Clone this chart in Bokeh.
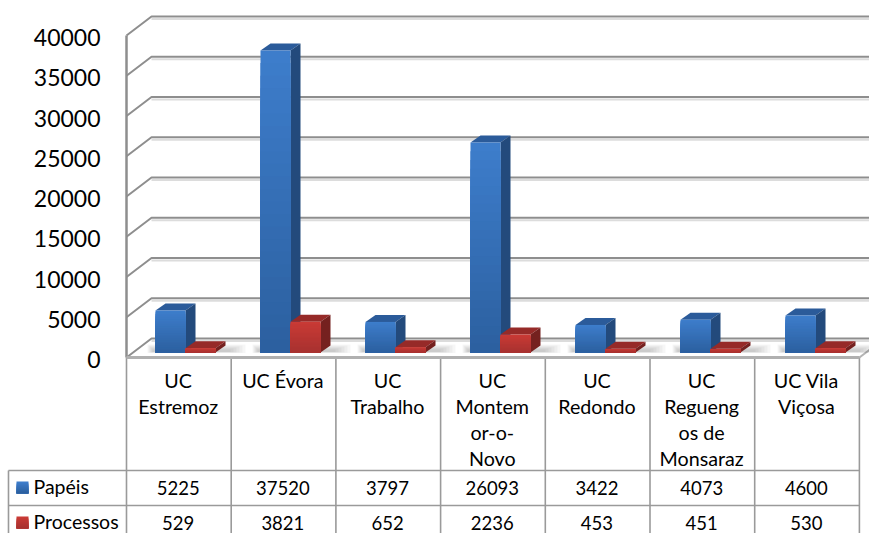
from bokeh.core.properties import value
from bokeh.embed import file_html
from bokeh.models import Range1d
from bokeh.plotting import figure
from bokeh.resources import INLINE

categories = [
    ["UC", "Estremoz"],
    ["UC Évora"],
    ["UC", "Trabalho"],
    ["UC", "Montem", "or-o-", "Novo"],
    ["UC", "Redondo"],
    ["UC", "Regueng", "os de", "Monsaraz"],
    ["UC Vila", "Viçosa"],
]
papeis = [5225, 37520, 3797, 26093, 3422, 4073, 4600]
processos = [529, 3821, 652, 2236, 453, 451, 530]
series_names = ["Papéis", "Processos"]
ticks = [0, 5000, 10000, 15000, 20000, 25000, 30000, 35000, 40000]

WIDTH, HEIGHT = 869, 533
FONT = value("Lato")
GRID = "#8e8e8e"
TABLE_LINE = "#9a9a9a"
PX_PER_COL = 104.7
PX_PER_VAL = 322 / 40000
ORIGIN_X, ORIGIN_Y = 126, 357
WALL_DX = 25 / PX_PER_COL
WALL_DY = 19 / PX_PER_VAL
BAR_STEP = 105 / PX_PER_COL
BAR_W = 30 / PX_PER_COL
BAR_DX = 10 / PX_PER_COL
BAR_DY = 7 / PX_PER_VAL
BASE_X = 29 / PX_PER_COL
BASE_Y = 5 / PX_PER_VAL
TEXT_SHIFT = -0.7 / PX_PER_COL

BLUE = {"top": "#2b5b9a", "side": "#234a7c", "hi": "#3d7dcb", "lo": "#2c60a0"}
RED = {"top": "#962a28", "side": "#75211f", "hi": "#c93a35", "lo": "#a83230"}


def blend(colors, f):
    hi = [int(colors["hi"][i:i + 2], 16) for i in (1, 3, 5)]
    lo = [int(colors["lo"][i:i + 2], 16) for i in (1, 3, 5)]
    return "#%02x%02x%02x" % tuple(round(h + (l - h) * f) for h, l in zip(hi, lo))


def tx(px):
    """Column-unit x for a table position given in page pixels."""
    return (px - ORIGIN_X) / PX_PER_COL


def ty(px):
    """Value-unit y for a table position given in page pixels."""
    return (ORIGIN_Y - px) / PX_PER_VAL


p = figure(
    width=WIDTH, height=HEIGHT, output_backend="svg", toolbar_location=None,
    x_range=Range1d(tx(0), tx(WIDTH)),
    y_range=Range1d(ty(HEIGHT), ty(0)),
    min_border_left=0, min_border_right=0, min_border_top=0, min_border_bottom=0,
    x_axis_location=None, y_axis_location=None, outline_line_color=None,
)
p.grid.visible = False

n = len(categories)

# Value axis labels
p.text(
    [tx(100)] * len(ticks), ticks, text=[str(t) for t in ticks],
    text_font=FONT, text_font_size=value("23px"), text_color="#000000",
    text_align="right", text_baseline="middle", y_offset=2,
)

# Pale shading under the wall lines, then the wall lines themselves
p.multi_line(
    [[WALL_DX, n + 1] for _ in ticks],
    [[t + WALL_DY - 2.5 / PX_PER_VAL] * 2 for t in ticks],
    line_color="#dcdcdc", line_width=2,
)
p.multi_line(
    [[0, WALL_DX, n + 1] for _ in ticks],
    [[t, t + WALL_DY, t + WALL_DY] for t in ticks],
    line_color=GRID, line_width=2,
)
p.line([0, 0], [0, ticks[-1]], line_color=GRID, line_width=2.5)
p.line([n, n + WALL_DX], [0, WALL_DY], line_color="#b4b4b4", line_width=2)


def draw_shadow(x0, x1):
    # soft shadow on the floor around the foot of a bar pair
    for grow in range(6):
        p.quad(
            left=[x0 - (8 - grow) / PX_PER_COL], right=[x1 + (30 - 3 * grow) / PX_PER_COL],
            bottom=[BASE_Y + (grow * 0.2 - 0.5) / PX_PER_VAL],
            top=[BASE_Y + (8 - grow) / PX_PER_VAL],
            fill_color="#000000", fill_alpha=0.035, line_color=None,
        )


def draw_bar(x0, val, colors, bands=24):
    x1 = x0 + BAR_W
    y0 = BASE_Y
    y1 = BASE_Y + val
    # top face
    p.patch(
        [x0, x0 + BAR_DX, x1 + BAR_DX, x1],
        [y1, y1 + BAR_DY, y1 + BAR_DY, y1],
        fill_color=colors["top"], line_color=None,
    )
    # side face
    p.patch(
        [x1, x1 + BAR_DX, x1 + BAR_DX, x1],
        [y0, y0 + BAR_DY, y1 + BAR_DY, y1],
        fill_color=colors["side"], line_color=None,
    )
    # front face: each step runs down to the base, so no seams show between steps
    for b in range(bands):
        p.quad(
            left=[x0], right=[x1],
            top=[y1 - val * b / bands], bottom=[y0],
            fill_color=blend(colors, b / (bands - 1)), line_color=None,
        )


for i in range(n):
    x = i * BAR_STEP + BASE_X
    draw_shadow(x, x + 2 * BAR_W)
for i in range(n):
    x = i * BAR_STEP + BASE_X
    draw_bar(x, papeis[i], BLUE)
    draw_bar(x + BAR_W, processos[i], RED)

# Data table under the floor of the chart
col_edges = list(range(n + 1))
col_mids = [i + 0.5 + TEXT_SHIFT for i in range(n)]
ROW_Y = [470, 505]
p.multi_line(
    [[x, x] for x in col_edges],
    [[ty(ORIGIN_Y), ty(HEIGHT)] for _ in col_edges],
    line_color=TABLE_LINE, line_width=1.6,
)
p.multi_line(
    [[tx(8), n] for _ in ROW_Y],
    [[ty(y), ty(y)] for y in ROW_Y],
    line_color=TABLE_LINE, line_width=1.6,
)
p.line([tx(8), tx(8)], [ty(470), ty(HEIGHT)], line_color=TABLE_LINE, line_width=1.6)
p.line([0, n], [0, 0], line_color="#b0b0b0", line_width=3)

LINE_Y = [380, 406, 432, 458]
for i, lines in enumerate(categories):
    p.text(
        [col_mids[i]] * len(lines), [ty(y) for y in LINE_Y[:len(lines)]], text=lines,
        text_font=FONT, text_font_size=value("19.7px"),
        text_align="center", text_baseline="middle", text_color="#000000",
    )

for row_y, values in ((487, papeis), (522, processos)):
    p.text(
        col_mids, [ty(row_y)] * n, text=[str(v) for v in values],
        text_font=FONT, text_font_size=value("18.5px"),
        text_align="center", text_baseline="middle", text_color="#000000",
    )

for name, row_y, colors in zip(series_names, (487, 522), (BLUE, RED)):
    for s in range(6):
        p.quad(left=[tx(16)], right=[tx(28)], top=[ty(row_y - 6 + 2 * s)], bottom=[ty(row_y + 6)],
               fill_color=blend(colors, s / 5), line_color=None)
    p.text(
        [tx(33)], [ty(row_y - 1)], text=[name],
        text_font=FONT, text_font_size=value("19.5px"),
        text_align="left", text_baseline="middle", text_color="#000000",
    )

open("out.html", "w").write(file_html(p, INLINE))
